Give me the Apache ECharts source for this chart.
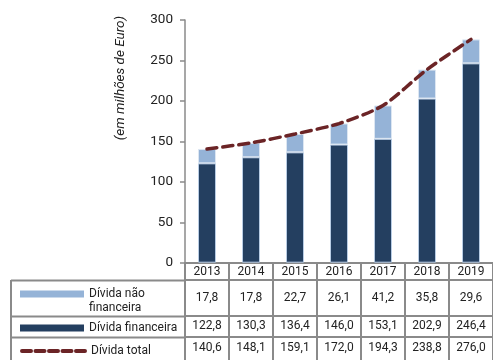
<!DOCTYPE html>
<html>
<head>
<meta charset="utf-8">
<script src="https://cdn.jsdelivr.net/npm/echarts@6/dist/echarts.min.js"></script>
<style>
  html, body { margin: 0; padding: 0; background: #fff; }
  #chart { width: 493px; height: 360px; }
</style>
</head>
<body>
<div id="chart"></div>
<script>
// Dívida da empresa, 2013-2019 (milhões de euro)
var years = ['2013', '2014', '2015', '2016', '2017', '2018', '2019'];
var dividaNaoFinanceira = [17.8, 17.8, 22.7, 26.1, 41.2, 35.8, 29.6];
var dividaFinanceira = [122.8, 130.3, 136.4, 146.0, 153.1, 202.9, 246.4];
var dividaTotal = [140.6, 148.1, 159.1, 172.0, 194.3, 238.8, 276.0];
var yTicks = { min: 0, max: 300, interval: 50 };

var seriesNames = ['Dívida não financeira', 'Dívida financeira', 'Dívida total'];

var GRID_LEFT = 185, GRID_BOTTOM = 97.3, GRID_TOP = 20;
var TABLE_GRAY = '#8a8a8a';
var TEXT = '#222';
var FONT = 'Roboto';
var C_FIN = '#243f60', C_NAOFIN = '#95b3d7', C_TOTAL = '#6b2426';

function pt(v) { return v.toFixed(1).replace('.', ','); }

// one extra bottom axis per table row, showing that row's values
function rowAxis(values, offset, margin) {
  return {
    type: 'category', data: years, gridIndex: 0, position: 'bottom', offset: offset,
    axisLine: { show: true, lineStyle: { color: TABLE_GRAY, width: 2 } },
    axisTick: { show: false }, splitLine: { show: false },
    axisLabel: {
      interval: 0, margin: margin, color: TEXT, fontFamily: FONT, fontSize: 12,
      formatter: function (v, i) { return pt(values[i]); }
    }
  };
}

function legendBox(item, top, extra) {
  return Object.assign({
    data: [item], left: 20, top: top, orient: 'horizontal',
    itemWidth: 64, itemHeight: 7, padding: 0,
    selectedMode: false,
    itemStyle: { borderWidth: 0 },
    textStyle: { color: TEXT, fontFamily: FONT, fontSize: 12 }
  }, extra || {});
}

var chart = echarts.init(document.getElementById('chart'), null, { renderer: 'canvas' });

chart.setOption({
  animation: false,
  grid: { left: GRID_LEFT, right: -3.5, top: GRID_TOP, bottom: GRID_BOTTOM, containLabel: false },
  xAxis: [
    {
      type: 'category', data: years, position: 'bottom',
      axisLine: { show: true, lineStyle: { color: TABLE_GRAY, width: 2 } },
      axisTick: { show: true, interval: 0, length: 98, lineStyle: { color: TABLE_GRAY, width: 2 } },
      axisLabel: { interval: 0, margin: 3, color: TEXT, fontFamily: FONT, fontSize: 12 },
      splitLine: { show: false }
    },
    rowAxis(dividaNaoFinanceira, 17.3, 12),
    rowAxis(dividaFinanceira, 53.3, 4),
    rowAxis(dividaTotal, 74.3, 5)
  ],
  yAxis: {
    type: 'value', min: yTicks.min, max: yTicks.max, interval: yTicks.interval,
    axisLine: { show: true, lineStyle: { color: TABLE_GRAY, width: 1.5 } },
    axisTick: { show: true, length: 5, lineStyle: { color: TABLE_GRAY, width: 1.5 } },
    axisLabel: { margin: 12, color: TEXT, fontFamily: FONT, fontSize: 13.5 },
    splitLine: { show: false }
  },
  legend: [
    // blank first line keeps the swatch level with "Dívida não"
    legendBox({ name: seriesNames[0], icon: 'rect' }, 273, {
      formatter: function () { return '\nDívida não\nfinanceira'; },
      textStyle: { color: TEXT, fontFamily: FONT, fontSize: 12, lineHeight: 14 }
    }),
    legendBox({ name: seriesNames[1], icon: 'rect' }, 322),
    legendBox({
      name: seriesNames[2],
      itemStyle: { color: 'rgba(0,0,0,0)', borderWidth: 0 }
    }, 345, {
      lineStyle: { color: C_TOTAL, width: 4, type: [9, 4.5], cap: 'round' }
    })
  ],
  graphic: [
    {
      type: 'text', x: 121, y: 78, rotation: Math.PI / 2,
      style: {
        text: '(em milhões de Euro)', fill: TEXT, fontFamily: FONT, fontSize: 13.5,
        fontStyle: 'italic', align: 'center', verticalAlign: 'middle'
      }
    },
    { type: 'line', shape: { x1: 11, y1: 280.5, x2: 185, y2: 280.5 }, style: { stroke: TABLE_GRAY, lineWidth: 2 } },
    { type: 'line', shape: { x1: 11, y1: 316.5, x2: 185, y2: 316.5 }, style: { stroke: TABLE_GRAY, lineWidth: 2 } },
    { type: 'line', shape: { x1: 11, y1: 337.5, x2: 185, y2: 337.5 }, style: { stroke: TABLE_GRAY, lineWidth: 2 } },
    { type: 'line', shape: { x1: 11, y1: 280, x2: 11, y2: 360 }, style: { stroke: TABLE_GRAY, lineWidth: 2 } }
  ],
  series: [
    {
      name: seriesNames[1], type: 'bar', stack: 'divida', data: dividaFinanceira,
      barWidth: 18,
      itemStyle: { color: C_FIN, borderColor: '#b8cce4', borderWidth: 1 }
    },
    {
      name: seriesNames[0], type: 'bar', stack: 'divida', data: dividaNaoFinanceira,
      barWidth: 18,
      itemStyle: { color: C_NAOFIN, borderColor: '#dce6f2', borderWidth: 1 }
    },
    {
      name: seriesNames[2], type: 'line', data: dividaTotal, z: 5,
      symbol: 'none', smooth: 0.25,
      lineStyle: { color: C_TOTAL, width: 3.5, type: [10, 6], cap: 'round' },
      itemStyle: { color: C_TOTAL }
    }
  ]
});
</script>
</body>
</html>
